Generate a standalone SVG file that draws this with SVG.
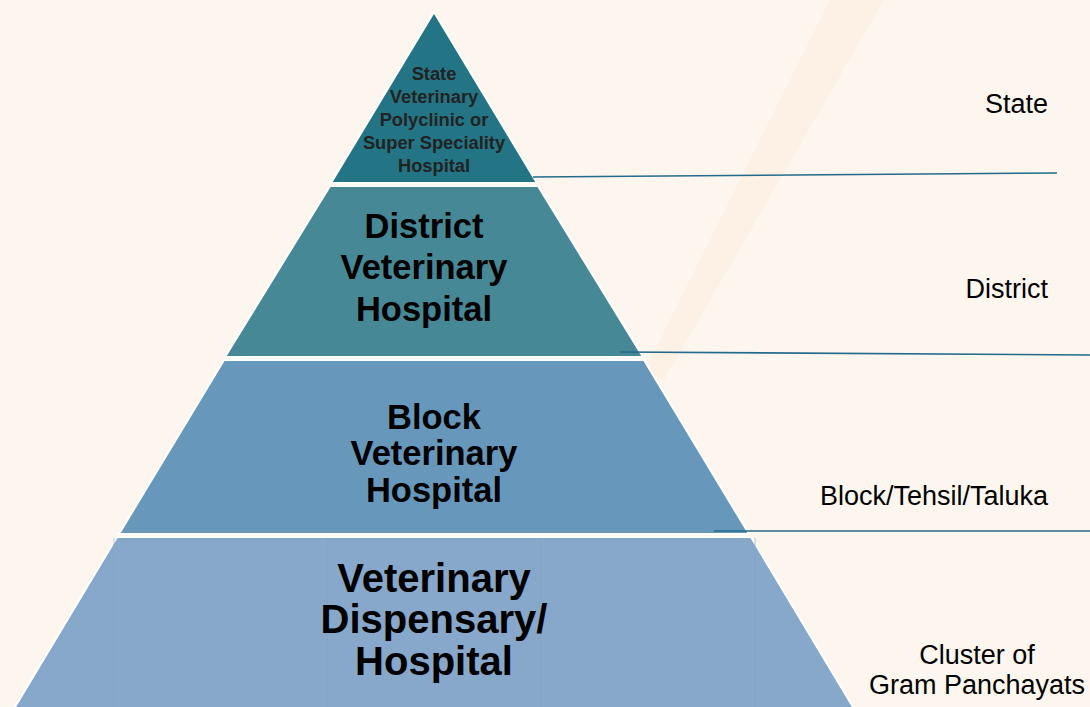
<svg xmlns="http://www.w3.org/2000/svg" width="1090" height="707" viewBox="0 0 1090 707">
<defs>
<style>
.tier{stroke:#ffffff;stroke-width:2}
.lbl{font-family:"Liberation Sans",Arial,sans-serif;font-weight:bold;text-anchor:middle;fill:#000}
.side{font-family:"Liberation Sans",Arial,sans-serif;font-size:27px;fill:#000}
.conn{stroke:#236a8c;stroke-width:1.6;fill:none}
.cell{stroke:#7fa6bd;stroke-width:1;opacity:0.6}
</style>
</defs>
<rect width="1090" height="707" fill="#fdf6ef"/>
<polygon points="830,0 884,0 664,380 640,380" fill="#fcecdc" opacity="0.45"/>
<g id="tier-state">
<polygon class="tier" points="434,12 537,183 331,183" fill="#237585"/>
<text class="lbl" style="font-size:18.3px;fill:#222" x="434"><tspan x="434" y="80">State</tspan><tspan x="434" y="103">Veterinary</tspan><tspan x="434" y="126">Polyclinic or</tspan><tspan x="434" y="149">Super Speciality</tspan><tspan x="434" y="172">Hospital</tspan></text>
</g>
<g id="tier-district">
<polygon class="tier" points="330,186 538,186 643,357 225,357" fill="#478896"/>
<text class="lbl" style="font-size:34.5px" x="424"><tspan x="424" y="238">District</tspan><tspan x="424" y="279">Veterinary</tspan><tspan x="424" y="321">Hospital</tspan></text>
</g>
<g id="tier-block">
<polygon class="tier" points="224,360 644,360 749,534 119,534" fill="#6798bc"/>
<text class="lbl" style="font-size:34.5px" x="434"><tspan x="434" y="429">Block</tspan><tspan x="434" y="465">Veterinary</tspan><tspan x="434" y="502">Hospital</tspan></text>
</g>
<g id="tier-dispensary">
<polygon class="tier" points="117,537 751,537 856,712 12,712" fill="#87a8cb"/>
<line class="cell" x1="114" y1="538" x2="114" y2="707"/>
<line class="cell" x1="327" y1="538" x2="327" y2="707"/>
<line class="cell" x1="541" y1="538" x2="541" y2="707"/>
<line class="cell" x1="755" y1="538" x2="755" y2="707"/>
<text class="lbl" style="font-size:40px" x="434"><tspan x="434" y="592">Veterinary</tspan><tspan x="434" y="633">Dispensary/</tspan><tspan x="434" y="675">Hospital</tspan></text>
</g>
<g id="connectors">
<line class="conn" x1="533" y1="177" x2="1057" y2="173"/>
<line class="conn" x1="620" y1="352" x2="1090" y2="355"/>
<line class="conn" x1="714" y1="531" x2="1090" y2="531"/>
</g>
<g id="label-state"><text class="side" x="1048" y="113" text-anchor="end">State</text></g>
<g id="label-district"><text class="side" x="1048" y="298" text-anchor="end">District</text></g>
<g id="label-block"><text class="side" x="1048" y="505" text-anchor="end">Block/Tehsil/Taluka</text></g>
<g id="label-cluster"><text class="side" x="977" y="664" text-anchor="middle">Cluster of</text><text class="side" x="977" y="694" text-anchor="middle">Gram Panchayats</text></g>
</svg>
